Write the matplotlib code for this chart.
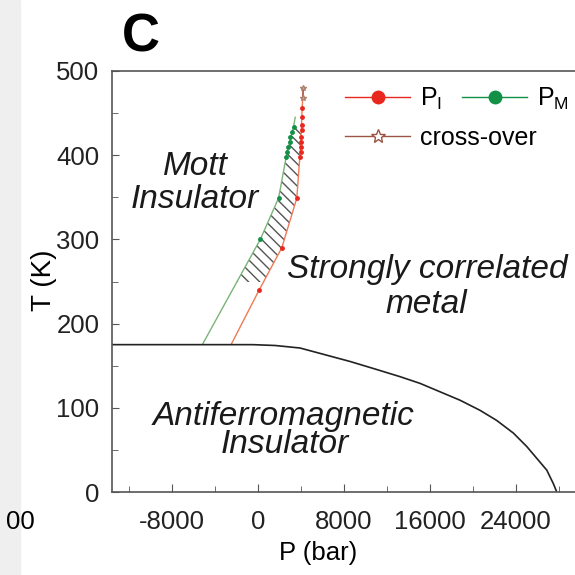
import numpy as np
import matplotlib.pyplot as plt
from matplotlib.patches import Polygon, Rectangle
from matplotlib.ticker import MultipleLocator

plt.rcParams['font.family'] = ['Liberation Sans', 'DejaVu Sans']
plt.rcParams['axes.unicode_minus'] = False

# P_I (red) transition points
pi_p = [100, 2200, 3600, 3900, 3950, 3950, 4000, 4000, 4050, 4050, 4100, 4100]
pi_t = [240, 290, 349, 398, 404, 410, 416, 422, 430, 436, 445, 456]
# P_M (green) transition points
pm_p = [200, 1900, 2600, 2700, 2800, 2950, 3000, 3150, 3300]
pm_t = [300, 349, 398, 404, 410, 416, 422, 428, 434]
# guide lines through the points
pi_line_p = [-2480, 100, 2200, 3600, 3950, 4100, 4200]
pi_line_t = [176, 240, 290, 349, 410, 456, 480]
pm_line_p = [-5150, 200, 1900, 2700, 3300, 3450]
pm_line_t = [176, 300, 349, 404, 434, 445]
# cross-over
co_p = [4150, 4200]
co_t = [468, 480]
# antiferromagnetic boundary
af_p = [-13600, -500, 1580, 3900, 6230, 8560, 10900, 13200, 15070, 16930,
        18790, 20650, 22200, 23750, 25000, 25930, 26860, 27470, 27790]
af_t = [175, 175, 174, 171, 163, 155, 146, 137, 129, 119,
        109, 97, 85, 70, 54, 40, 26, 10, 0]

fig = plt.figure(figsize=(5.75, 5.75), dpi=100)
fig.patches.append(Rectangle((0, 0), 20 / 575, 1, transform=fig.transFigure,
                             color='#efefef', zorder=-5))
ax = fig.add_axes([112 / 575, 83 / 575, 468.5 / 575, 421 / 575])

# hatched coexistence region
verts = list(zip(pm_line_p, pm_line_t)) + list(zip(pi_line_p, pi_line_t))[::-1]
poly = Polygon(verts, closed=True, facecolor='none', edgecolor='#555555',
               hatch='\\\\\\', linewidth=0, zorder=1)
ax.add_patch(poly)
clip = Rectangle((-14000, 250), 30000, 185, transform=ax.transData)
poly.set_clip_path(clip)

ax.plot(pm_line_p, pm_line_t, color='#79b479', lw=1, zorder=2)
ax.plot(pi_line_p, pi_line_t, color='#f07a55', lw=1, zorder=2)
ax.plot(co_p, co_t, color='#9a5545', lw=1, marker='*', ms=4,
        mfc='#d9b0a8', mec='#b08070', zorder=2)
ax.plot(pi_p, pi_t, 'o', color='#e8281e', ms=3.5, mew=0, zorder=3)
ax.plot(pm_p, pm_t, 'o', color='#119046', ms=3.5, mew=0, zorder=3)
ax.plot(af_p, af_t, color='#222222', lw=1.2, zorder=2)

# legend handles
h_i, = ax.plot([], [], color='#e8281e', lw=1, marker='o', ms=10, mew=0,
               label=r'P$_\mathregular{I}$')
h_m, = ax.plot([], [], color='#119046', lw=1, marker='o', ms=10, mew=0,
               label=r'P$_\mathregular{M}$')
h_c, = ax.plot([], [], color='#9a5545', lw=1, marker='*', ms=10,
               mfc='white', mec='#9a5545', label='cross-over')
leg_kw = dict(frameon=False, fontsize=18, loc='upper left',
              bbox_transform=fig.transFigure, handlelength=2.6,
              handletextpad=0.4, columnspacing=0.8,
              borderaxespad=0, borderpad=0)
leg1 = ax.legend(handles=[h_i, h_m], ncol=2,
                 bbox_to_anchor=(345 / 575, 1 - 86 / 575), **leg_kw)
ax.add_artist(leg1)
ax.legend(handles=[h_c], bbox_to_anchor=(345 / 575, 1 - 126 / 575), **leg_kw)

ax.set_xlim(-13600, 30000)
ax.set_ylim(0, 500)
ax.xaxis.set_major_locator(MultipleLocator(8000))
ax.xaxis.set_minor_locator(MultipleLocator(4000))
ax.yaxis.set_major_locator(MultipleLocator(100))
ax.yaxis.set_minor_locator(MultipleLocator(50))
ax.tick_params(which='both', direction='in', colors='#555555', labelcolor='#222222',
               labelsize=18.5)
ax.tick_params(axis='x', which='major', length=6, pad=13)
ax.tick_params(axis='y', which='major', length=5, pad=9)
ax.tick_params(which='minor', length=4)
ax.spines['right'].set_visible(False)
for s in ['left', 'top', 'bottom']:
    ax.spines[s].set_color('#555555')
    ax.spines[s].set_linewidth(1.2)

txt = dict(fontsize=24, style='italic', color='#1a1a1a', ha='center', va='baseline')
ax.text(-5860, 376, 'Mott', **txt)
ax.text(-5900, 337, 'Insulator', **txt)
ax.text(15700, 254, 'Strongly correlated', **txt)
ax.text(15630, 213, 'metal', **txt)
ax.text(2330, 80, 'Antiferromagnetic', **txt)
ax.text(2510, 46, 'Insulator', **txt)

fig.text(141 / 575, 1 - 38 / 575, 'C', fontsize=38, fontweight='bold',
         ha='center', va='center')
fig.text(44 / 575, 1 - 280 / 575, 'T (K)', fontsize=20, rotation=90,
         ha='center', va='center')
fig.text(318 / 575, 1 - 553 / 575, 'P (bar)', fontsize=18.5, ha='center', va='center')
fig.text(20 / 575, 1 - 522 / 575, '00', fontsize=18.5, ha='center', va='center')

fig.savefig('out.png', dpi=100)
